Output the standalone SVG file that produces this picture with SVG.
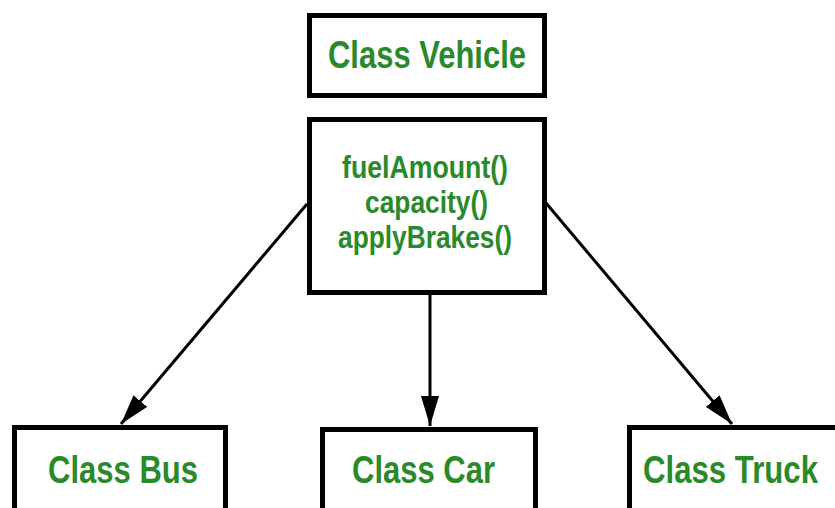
<svg xmlns="http://www.w3.org/2000/svg" width="835" height="508" viewBox="0 0 835 508">
  <style>
    .box { fill: #ffffff; stroke: #000000; stroke-width: 5; }
    .label { font-family: "Liberation Sans", Arial, sans-serif; font-weight: bold; fill: #2a8a2a; text-anchor: middle; }
    .title { font-size: 39px; }
    .method { font-size: 32px; }
    .edge { stroke: #000000; stroke-width: 3; fill: none; marker-end: url(#arrow); }
  </style>
  <defs>
    <marker id="arrow" markerWidth="10" markerHeight="6" refX="10" refY="3" orient="auto" markerUnits="strokeWidth">
      <path d="M0,0 L10,3 L0,6 Z" fill="#000000"/>
    </marker>
  </defs>
  <rect width="835" height="508" fill="#ffffff"/>

  <!-- inheritance connectors -->
  <g id="connectors">
    <line class="edge" x1="307" y1="204" x2="121" y2="424"/>
    <line class="edge" x1="430" y1="295" x2="430" y2="426"/>
    <line class="edge" x1="546" y1="203" x2="732" y2="424"/>
  </g>

  <g id="vehicle">
    <rect class="box" x="309.5" y="15.5" width="235" height="80"/>
    <text class="label title" x="427" y="68" textLength="198" lengthAdjust="spacingAndGlyphs">Class Vehicle</text>
  </g>

  <g id="vehicle-methods">
    <rect class="box" x="309.5" y="119.5" width="235" height="173"/>
    <text class="label method" x="425" y="178" textLength="166" lengthAdjust="spacingAndGlyphs">fuelAmount()</text>
    <text class="label method" x="426.5" y="213" textLength="123" lengthAdjust="spacingAndGlyphs">capacity()</text>
    <text class="label method" x="425" y="248" textLength="174" lengthAdjust="spacingAndGlyphs">applyBrakes()</text>
  </g>

  <g id="bus">
    <rect class="box" x="14.5" y="427.5" width="211" height="90"/>
    <text class="label title" x="123" y="483" textLength="150" lengthAdjust="spacingAndGlyphs">Class Bus</text>
  </g>

  <g id="car">
    <rect class="box" x="322.5" y="429.5" width="213" height="90"/>
    <text class="label title" x="423.5" y="483" textLength="143" lengthAdjust="spacingAndGlyphs">Class Car</text>
  </g>

  <g id="truck">
    <rect class="box" x="629.5" y="427.5" width="220" height="90"/>
    <text class="label title" x="730.5" y="483" textLength="175" lengthAdjust="spacingAndGlyphs">Class Truck</text>
  </g>
</svg>
